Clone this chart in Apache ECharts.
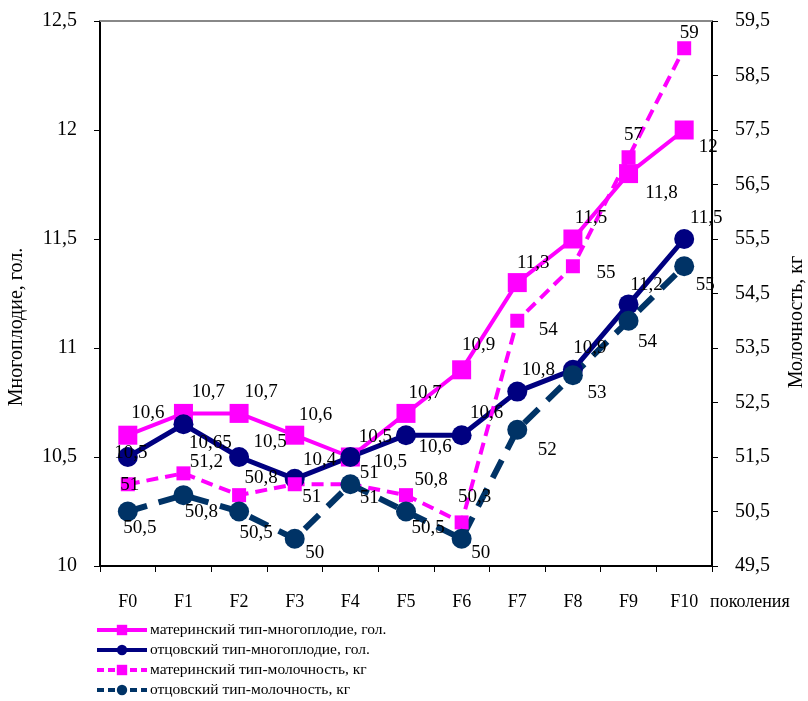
<!DOCTYPE html>
<html>
<head>
<meta charset="utf-8">
<script src="https://cdn.jsdelivr.net/npm/echarts@6/dist/echarts.min.js"></script>
<style>
html,body{margin:0;padding:0;background:#fff;}
#chart{width:808px;height:701px;}
</style>
</head>
<body>
<div id="chart"></div>
<script>
// ---- data ----
var categories = ['F0','F1','F2','F3','F4','F5','F6','F7','F8','F9','F10'];
var maternalLitter = [10.6, 10.7, 10.7, 10.6, 10.5, 10.7, 10.9, 11.3, 11.5, 11.8, 12];
var paternalLitter = [10.5, 10.65, 10.5, 10.4, 10.5, 10.6, 10.6, 10.8, 10.9, 11.2, 11.5];
var maternalMilk = [51, 51.2, 50.8, 51, 51, 50.8, 50.3, 54, 55, 57, 59];
var paternalMilk = [50.5, 50.8, 50.5, 50, 51, 50.5, 50, 52, 53, 54, 55];
var seriesNames = [
  'материнский тип-многоплодие, гол.',
  'отцовский тип-многоплодие, гол.',
  'материнский тип-молочность, кг',
  'отцовский тип-молочность, кг'
];
var leftAxisName = 'Многоплодие, гол.';
var rightAxisName = 'Молочность, кг';
var xAxisName = 'поколения';

// ---- label placement (style, not data) ----
var offMatLitter = [[20,-22],[25,-21],[22,-21],[21,-20],[25,-20],[19,-20],[17,-25],[16,-20],[18,-21],[33,19],[24,17]];
var offPatLitter = [[3,-4],[27,19],[31,-15],[25,-19],[40,5],[29,12],[25,-22],[21,-22],[17,-22],[18,-19],[22,-21]];
var offMatMilk = [[2,1],[23,-11],[22,-17],[17,13],[19,-11],[25,-15],[13,-25],[31,9],[33,7],[5,-22],[5,-15]];
var offPatMilk = [[12,17],[18,17],[17,22],[20,14],[19,14],[22,17],[19,14],[30,20],[24,18],[19,21],[21,19]];

var FONT = '"Liberation Serif","Times New Roman",serif';
function comma(v){ return String(v).replace('.', ','); }
function build(values, offs){
  return values.map(function(v,i){
    return {value: v, label: {offset: offs[i]}};
  });
}
var labelBase = {
  show: true, position: 'inside', color: '#000', fontFamily: FONT, fontSize: 19,
  formatter: function(p){ return comma(p.value); }
};

var chart = echarts.init(document.getElementById('chart'), null, {renderer:'canvas'});
var option = {
  backgroundColor: '#fff',
  animation: false,
  grid: {left: 100, right: 96, top: 21, bottom: 135, containLabel: false},
  legend: {
    orient: 'vertical', left: 95, top: 622, height: 100, itemWidth: 50, itemHeight: 13, itemGap: 4,
    padding: 0,
    lineStyle: {width: 4},
    textStyle: {fontFamily: FONT, fontSize: 15.5, lineHeight: 16, color: '#000', padding: [0,0,0,-2]},
    data: [
      {name: seriesNames[0], lineStyle: {type: 'solid'}},
      {name: seriesNames[1], lineStyle: {type: 'solid'}},
      {name: seriesNames[2], lineStyle: {type: [7, 4]}},
      {name: seriesNames[3], lineStyle: {type: [7, 4]}}
    ]
  },
  xAxis: [{
    type: 'category', data: categories, boundaryGap: true,
    axisLine: {show: true, lineStyle: {color: '#000', width: 2}},
    axisTick: {show: true, length: 6, lineStyle: {color: '#000'}},
    axisLabel: {fontFamily: FONT, fontSize: 18, color: '#000', margin: 27},
    splitLine: {show: false}
  },{
    type: 'category', data: categories, position: 'top', boundaryGap: true,
    axisLine: {show: true, lineStyle: {color: '#888', width: 2}},
    axisTick: {show: false}, axisLabel: {show: false}, splitLine: {show: false}
  }],
  yAxis: [{
    type: 'value', min: 10, max: 12.5, interval: 0.5, position: 'left',
    axisLine: {show: true, lineStyle: {color: '#000', width: 2}},
    axisTick: {show: true, inside: false, length: 6, lineStyle: {color: '#000'}},
    axisLabel: {fontFamily: FONT, fontSize: 20, color: '#000', margin: 23, formatter: comma},
    splitLine: {show: false}
  },{
    type: 'value', min: 49.5, max: 59.5, interval: 1, position: 'right',
    axisLine: {show: true, lineStyle: {color: '#000', width: 2}},
    axisTick: {show: true, length: 6, lineStyle: {color: '#000'}},
    axisLabel: {fontFamily: FONT, fontSize: 20, color: '#000', margin: 23, formatter: comma},
    splitLine: {show: false}
  }],
  graphic: [
    {type:'text', x: 17, y: 327, rotation: Math.PI/2,
     style:{text: leftAxisName, font: '20px ' + FONT, fill:'#000', textAlign:'center', textVerticalAlign:'middle'}},
    {type:'text', x: 797, y: 322, rotation: Math.PI/2,
     style:{text: rightAxisName, font: '20px ' + FONT, fill:'#000', textAlign:'center', textVerticalAlign:'middle'}},
    {type:'text', x: 710, y: 602,
     style:{text: xAxisName, font: '18px ' + FONT, fill:'#000', textAlign:'left', textVerticalAlign:'middle'}}
  ],
  series: [{
    name: seriesNames[0], type: 'line', yAxisIndex: 0,
    data: build(maternalLitter, offMatLitter),
    symbol: 'rect', symbolSize: 19,
    itemStyle: {color: '#FF00FF'},
    lineStyle: {color: '#FF00FF', width: 4},
    label: labelBase
  },{
    name: seriesNames[1], type: 'line', yAxisIndex: 0,
    data: build(paternalLitter, offPatLitter),
    symbol: 'circle', symbolSize: 20,
    itemStyle: {color: '#000080'},
    lineStyle: {color: '#000080', width: 5},
    label: labelBase
  },{
    name: seriesNames[2], type: 'line', yAxisIndex: 1,
    data: build(maternalMilk, offMatMilk),
    symbol: 'rect', symbolSize: 14,
    itemStyle: {color: '#FF00FF'},
    lineStyle: {color: '#FF00FF', width: 4, type: [12, 7]},
    label: labelBase
  },{
    name: seriesNames[3], type: 'line', yAxisIndex: 1,
    data: build(paternalMilk, offPatMilk),
    symbol: 'circle', symbolSize: 20,
    itemStyle: {color: '#003366'},
    lineStyle: {color: '#003366', width: 6, type: [20, 12]},
    label: labelBase
  }]
};
chart.setOption(option);
</script>
</body>
</html>
